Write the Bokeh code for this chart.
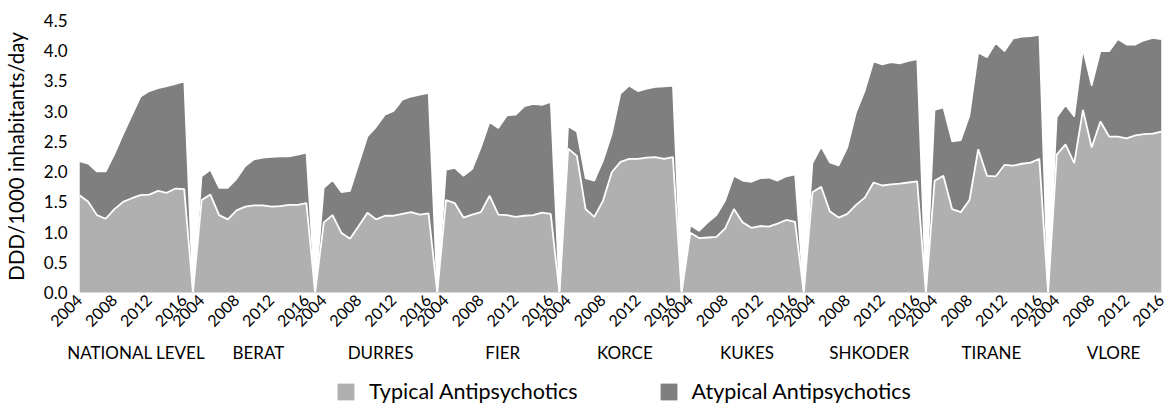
from math import pi
from bokeh.plotting import figure
from bokeh.layouts import column
from bokeh.models import (Range1d, LinearAxis, FixedTicker, Legend, LegendItem,
                          ColumnDataSource)
from bokeh.embed import file_html
from bokeh.resources import INLINE

# ---------------- data ----------------
regions = ["NATIONAL LEVEL", "BERAT", "DURRES", "FIER", "KORCE",
           "KUKES", "SHKODER", "TIRANE", "VLORE"]
years = list(range(2004, 2017))
year_tick_labels = ["2004", "2008", "2012", "2016"]
y_tick_labels = ["0.0", "0.5", "1.0", "1.5", "2.0", "2.5", "3.0", "3.5", "4.0", "4.5"]
series_names = ["Typical Antipsychotics", "Atypical Antipsychotics"]

typical_national = [1.61, 1.50, 1.28, 1.22, 1.38, 1.50, 1.56, 1.61, 1.62, 1.68, 1.65, 1.72, 1.71]
atypical_national = [0.56, 0.63, 0.72, 0.78, 0.91, 1.12, 1.37, 1.63, 1.71, 1.70, 1.76, 1.73, 1.78]

typical_berat = [1.53, 1.62, 1.28, 1.21, 1.36, 1.42, 1.44, 1.44, 1.42, 1.43, 1.45, 1.45, 1.48]
atypical_berat = [0.39, 0.41, 0.45, 0.52, 0.52, 0.67, 0.76, 0.79, 0.82, 0.82, 0.80, 0.83, 0.83]

typical_durres = [1.16, 1.28, 0.99, 0.89, 1.10, 1.32, 1.21, 1.27, 1.27, 1.30, 1.33, 1.29, 1.31]
atypical_durres = [0.57, 0.58, 0.67, 0.79, 1.03, 1.26, 1.53, 1.67, 1.73, 1.89, 1.91, 1.98, 1.99]

typical_fier = [1.53, 1.48, 1.24, 1.29, 1.33, 1.60, 1.29, 1.28, 1.25, 1.27, 1.28, 1.32, 1.30]
atypical_fier = [0.50, 0.58, 0.69, 0.75, 1.07, 1.22, 1.43, 1.65, 1.69, 1.81, 1.84, 1.78, 1.85]

typical_korce = [2.38, 2.26, 1.38, 1.25, 1.52, 1.99, 2.16, 2.21, 2.21, 2.23, 2.24, 2.21, 2.24]
atypical_korce = [0.37, 0.40, 0.51, 0.60, 0.66, 0.63, 1.13, 1.21, 1.12, 1.14, 1.16, 1.20, 1.18]

typical_kukes = [0.99, 0.90, 0.91, 0.92, 1.06, 1.38, 1.16, 1.07, 1.10, 1.09, 1.14, 1.20, 1.17]
atypical_kukes = [0.12, 0.12, 0.25, 0.36, 0.46, 0.55, 0.69, 0.76, 0.79, 0.81, 0.71, 0.72, 0.78]

typical_shkoder = [1.66, 1.75, 1.34, 1.24, 1.30, 1.45, 1.57, 1.82, 1.77, 1.79, 1.80, 1.82, 1.84]
atypical_shkoder = [0.48, 0.66, 0.81, 0.86, 1.10, 1.53, 1.77, 2.00, 2.00, 2.02, 1.99, 2.01, 2.02]

typical_tirane = [1.85, 1.93, 1.38, 1.33, 1.53, 2.37, 1.93, 1.92, 2.11, 2.10, 2.13, 2.15, 2.21]
atypical_tirane = [1.17, 1.13, 1.12, 1.19, 1.40, 1.60, 1.96, 2.21, 1.88, 2.10, 2.10, 2.09, 2.05]

typical_vlore = [2.28, 2.45, 2.14, 3.02, 2.40, 2.83, 2.58, 2.58, 2.55, 2.60, 2.62, 2.63, 2.66]
atypical_vlore = [0.62, 0.65, 0.77, 1.00, 1.02, 1.16, 1.41, 1.61, 1.55, 1.50, 1.55, 1.58, 1.53]

typical = [typical_national, typical_berat, typical_durres, typical_fier, typical_korce,
           typical_kukes, typical_shkoder, typical_tirane, typical_vlore]
atypical = [atypical_national, atypical_berat, atypical_durres, atypical_fier, atypical_korce,
            atypical_kukes, atypical_shkoder, atypical_tirane, atypical_vlore]

# ---------------- build category positions ----------------
GROUP = len(years) + 1  # 13 years + one empty category between regions
xs, typ, tot = [], [], []
for g in range(len(regions)):
    if g > 0:
        xs.append(g * GROUP - 1)
        typ.append(0.0)
        tot.append(0.0)
    for i in range(len(years)):
        xs.append(g * GROUP + i)
        typ.append(typical[g][i])
        tot.append(typical[g][i] + atypical[g][i])

src = ColumnDataSource(data=dict(x=xs, typ=typ, tot=tot))

LIGHT = "#b0b0b0"
DARK = "#7f7f7f"
FONT = "Lato"
TXT = "#000000"

W = 1167
main = figure(width=W, height=372, output_backend="svg", toolbar_location=None,
              x_range=Range1d(0, xs[-1]), y_range=Range1d(0, 4.5),
              min_border_left=75, min_border_right=6, min_border_top=20,
              min_border_bottom=80)
main.outline_line_color = None
main.xgrid.grid_line_color = None
main.ygrid.grid_line_color = None

r_typ = main.varea(x="x", y1=0, y2="typ", source=src, fill_color=LIGHT)
r_aty = main.varea(x="x", y1="typ", y2="tot", source=src, fill_color=DARK)
main.line(x="x", y="tot", source=src, line_color="white", line_width=1.5)
main.line(x="x", y="typ", source=src, line_color="white", line_width=1.8)

# year axis
year_ticks = []
year_over = {}
for g in range(len(regions)):
    for lab in year_tick_labels:
        t = g * GROUP + years.index(int(lab))
        year_ticks.append(t)
        year_over[t] = lab
xa = main.xaxis[0]
xa.ticker = FixedTicker(ticks=year_ticks)
xa.major_label_overrides = year_over
xa.major_label_orientation = pi / 4
xa.major_tick_line_color = None
xa.minor_tick_line_color = None
xa.major_tick_out = 0
xa.major_tick_in = 0
xa.axis_line_color = "#d9d9d9"
xa.major_label_standoff = 5
xa.major_label_text_font = FONT
xa.major_label_text_font_size = "16px"
xa.major_label_text_color = TXT

# region axis
g_ticks = [g * GROUP + 6.5 for g in range(len(regions))]
gax = LinearAxis(ticker=FixedTicker(ticks=g_ticks),
                 major_label_overrides={t: r for t, r in zip(g_ticks, regions)},
                 axis_line_color=None, major_tick_line_color=None,
                 minor_tick_line_color=None, major_tick_out=0, major_tick_in=0,
                 major_label_standoff=7, major_label_text_font=FONT,
                 major_label_text_font_size="17px", major_label_text_color=TXT)
main.add_layout(gax, "below")

# y axis
ya = main.yaxis[0]
y_ticks = [float(s) for s in y_tick_labels]
ya.ticker = FixedTicker(ticks=y_ticks)
ya.major_label_overrides = {t: s for t, s in zip(y_ticks, y_tick_labels)}
ya.major_tick_line_color = None
ya.minor_tick_line_color = None
ya.major_tick_out = 0
ya.major_tick_in = 0
ya.axis_line_color = None
ya.major_label_standoff = 12
ya.major_label_text_font = FONT
ya.major_label_text_font_size = "17px"
ya.major_label_text_color = TXT
ya.axis_label = "DDD/1000 inhabitants/day"
ya.axis_label_text_font = FONT
ya.axis_label_text_font_size = "20.5px"
ya.axis_label_text_font_style = "normal"
ya.axis_label_text_color = TXT
ya.axis_label_standoff = 13

# legend strip (its frame is aligned with the main frame by the column layout)
leg = figure(width=W, height=32, output_backend="svg", toolbar_location=None,
             x_axis_type=None, y_axis_type=None, min_border=0,
             x_range=Range1d(0, 1), y_range=Range1d(0, 1))
leg.outline_line_color = None
d_typ = leg.varea(x=[-3, -2], y1=[0, 0], y2=[1, 1], fill_color=LIGHT)
d_aty = leg.varea(x=[-3, -2], y1=[0, 0], y2=[1, 1], fill_color=DARK)
legend = Legend(items=[LegendItem(label=series_names[0], renderers=[d_typ]),
                       LegendItem(label=series_names[1], renderers=[d_aty])],
                orientation="horizontal", location=(256, 0),
                padding=0, margin=0, spacing=80,
                glyph_width=21, glyph_height=21, label_standoff=13,
                label_height=22,
                label_text_font=FONT, label_text_font_size="21.5px",
                label_text_color=TXT, border_line_color=None,
                background_fill_alpha=0)
leg.add_layout(legend)

p = column(main, leg, spacing=0)

open("out.html", "w").write(file_html(p, INLINE))
